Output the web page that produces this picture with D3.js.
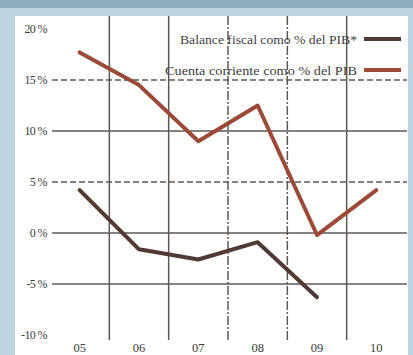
<!DOCTYPE html>
<html>
<head>
<meta charset="utf-8">
<script src="https://cdn.jsdelivr.net/npm/d3@7"></script>
<style>
  html, body { margin: 0; padding: 0; background: #bdd3e0; }
  svg { display: block; }
</style>
</head>
<body>
<svg id="chart" width="413" height="355"></svg>
<script>
// Years on the x axis
const years = ["05", "06", "07", "08", "09", "10"];
// Fiscal balance, % of GDP (no 2010 value)
const balanceFiscal = [4.2, -1.6, -2.6, -0.9, -6.3, null];
// Current account, % of GDP
const cuentaCorriente = [17.7, 14.5, 9.0, 12.5, -0.2, 4.2];
// Y tick values and which gridlines are dashed
const yTicks = [20, 15, 10, 5, 0, -5, -10];
const yDashed = [15, 5];
const xDashedAfter = ["07", "08"];   // vertical divider to the right of these years is dashed

const legendLabels = ["Balance fiscal como % del PIB*", "Cuenta corriente como % del PIB"];
const seriesColors = ["#4f3a35", "#9c4a38"];

const svg = d3.select("#chart");
const W = 413, H = 355;

// background bands
svg.append("rect").attr("x", 0).attr("y", 0).attr("width", W).attr("height", H).attr("fill", "#bdd3e0");
svg.append("rect").attr("x", 0).attr("y", 0).attr("width", W).attr("height", 8).attr("fill", "#8eaec2");
svg.append("rect").attr("x", 15).attr("y", 16).attr("width", 393).attr("height", H - 16).attr("fill", "#ffffff");

const x = d3.scaleBand().domain(years).range([50, 406]).padding(0);
const y = d3.scaleLinear().domain([-10, 20]).range([335, 29]);

const gridColor = "#5f5955";
const textColor = "#3d3d3d";
const serif = "'Liberation Serif', 'DejaVu Serif', serif";

// horizontal gridlines
svg.append("g").selectAll("line")
  .data(yTicks.filter(v => v !== 20 && v !== -10))
  .join("line")
  .attr("x1", 52).attr("x2", 407)
  .attr("y1", d => y(d)).attr("y2", d => y(d))
  .attr("stroke", gridColor)
  .attr("stroke-width", 1.6)
  .attr("stroke-dasharray", d => yDashed.includes(d) ? "6,3" : null);

// vertical dividers between years
svg.append("g").selectAll("line")
  .data(years.slice(0, -1))
  .join("line")
  .attr("x1", d => x(d) + x.bandwidth()).attr("x2", d => x(d) + x.bandwidth())
  .attr("y1", 16).attr("y2", 340)
  .attr("stroke", gridColor)
  .attr("stroke-width", 1.5)
  .attr("stroke-dasharray", d => xDashedAfter.includes(d) ? "9,2,2,2" : null);

// y tick labels
svg.append("g").selectAll("text")
  .data(yTicks)
  .join("text")
  .attr("x", 47)
  .attr("y", d => y(d) + 4)
  .attr("text-anchor", "end")
  .attr("font-family", serif)
  .attr("font-size", 12)
  .attr("letter-spacing", -0.6)
  .attr("fill", textColor)
  .text(d => d + " %");

// x labels
svg.append("g").selectAll("text")
  .data(years)
  .join("text")
  .attr("x", d => x(d) + x.bandwidth() / 2)
  .attr("y", 352)
  .attr("text-anchor", "middle")
  .attr("font-family", serif)
  .attr("font-size", 12.5)
  .attr("fill", textColor)
  .text(d => d);

// series lines
const line = d3.line()
  .defined(d => d.v !== null)
  .x(d => x(d.k) + x.bandwidth() / 2)
  .y(d => y(d.v));

[balanceFiscal, cuentaCorriente].forEach((vals, i) => {
  const pts = years.map((k, j) => ({ k, v: vals[j] }));
  svg.append("path")
    .datum(pts)
    .attr("d", line)
    .attr("fill", "none")
    .attr("stroke", seriesColors[i])
    .attr("stroke-width", 4)
    .attr("stroke-linejoin", "round")
    .attr("stroke-linecap", "round");
});

// legend
const legY = [39, 70];
const legW = [177, 192];
legendLabels.forEach((lab, i) => {
  svg.append("rect")
    .attr("x", 364).attr("y", legY[i] - 2)
    .attr("width", 37).attr("height", 4)
    .attr("fill", seriesColors[i]);
  svg.append("text")
    .attr("x", 357)
    .attr("y", legY[i] + 5)
    .attr("text-anchor", "end")
    .attr("font-family", serif)
    .attr("font-size", 13)
    .attr("fill", textColor)
    .attr("textLength", legW[i])
    .attr("lengthAdjust", "spacingAndGlyphs")
    .text(lab);
});
</script>
</body>
</html>
